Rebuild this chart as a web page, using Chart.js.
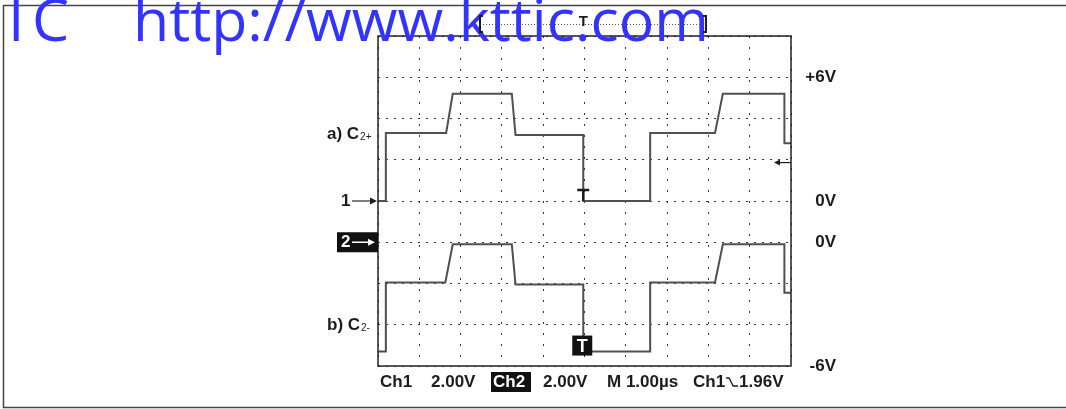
<!DOCTYPE html>
<html>
<head>
  <meta charset="utf-8">
  <title>C2+ / C2- scope capture</title>
  <script src="https://cdn.jsdelivr.net/npm/chart.js"></script>
  <style>
    body { margin: 0; background: #fff; }
    #wrap { width: 1066px; height: 409px; }
  </style>
</head>
<body>
  <div id="wrap"><canvas id="scope" width="1066" height="409"></canvas></div>
  <script>
    // time in us (1.00us/div, 10 divisions), volts per channel (2.00V/div)
    const ch1Time  = [0, 0.19, 0.19, 1.65, 1.81, 3.24, 3.33, 4.97, 4.97, 6.59, 6.59, 8.16, 8.35, 9.84, 9.84, 10];
    const ch1Volts = [0, 0, 3.3, 3.3, 5.2, 5.2, 3.2, 3.2, 0, 0, 3.3, 3.3, 5.2, 5.2, 2.8, 2.8];
    const ch2Time  = [0, 0.19, 0.19, 1.63, 1.81, 3.24, 3.33, 4.97, 4.97, 6.59, 6.59, 8.16, 8.35, 9.84, 9.84, 10];
    const ch2Volts = [-5.3, -5.3, -1.95, -1.95, -0.1, -0.1, -2.05, -2.05, -5.3, -5.3, -1.95, -1.95, -0.1, -0.1, -2.45, -2.45];

    const rightLabels = ['+6V', '0V', '0V', '-6V'];
    const statusItems = ['Ch1', '2.00V', 'Ch2', '2.00V', 'M 1.00\u00b5s', 'Ch1', '1.96V'];
    const triggerLevel = 1.96;

    const pts = (xs, ys) => xs.map((x, i) => ({x: x, y: ys[i]}));
    const BOLD = 'bold 17px "Liberation Sans", Arial, sans-serif';
    const INK = '#1c1c1c';

    function arrowHead(ctx, x, y, dir, size) {
      ctx.beginPath();
      ctx.moveTo(x, y);
      ctx.lineTo(x - dir * size, y - size / 2);
      ctx.lineTo(x - dir * size, y + size / 2);
      ctx.closePath();
      ctx.fill();
    }

    const decor = {
      id: 'decor',
      afterDraw(chart) {
        const ctx = chart.ctx;
        const ca = chart.chartArea;
        const x = chart.scales.x, y1 = chart.scales.y1, y2 = chart.scales.y2;
        ctx.save();

        // outer frame
        ctx.strokeStyle = '#444';
        ctx.lineWidth = 1.5;
        ctx.beginPath();
        ctx.moveTo(1066, 5.5); ctx.lineTo(3.5, 5.5); ctx.lineTo(3.5, 407.5); ctx.lineTo(1066, 407.5);
        ctx.stroke();

        // graticule frame
        ctx.strokeStyle = '#222';
        ctx.strokeRect(ca.left, ca.top, ca.right - ca.left, ca.bottom - ca.top);

        ctx.fillStyle = INK;
        ctx.strokeStyle = INK;
        ctx.textBaseline = 'middle';

        // left labels with subscripts
        function sub(main, small, lx, cy) {
          ctx.font = BOLD;
          ctx.textAlign = 'left';
          ctx.fillText(main, lx, cy);
          const w = ctx.measureText(main).width;
          ctx.font = '10px "Liberation Sans", Arial, sans-serif';
          ctx.fillText(small, lx + w + 1, cy + 3);
        }
        sub('a) C', '2+', 327, 134);
        sub('b) C', '2-', 327, 325);

        // channel ground markers
        const g1 = y1.getPixelForValue(0);
        ctx.font = BOLD;
        ctx.textAlign = 'left';
        ctx.fillText('1', 341, g1);
        ctx.strokeStyle = '#555';
        ctx.lineWidth = 1.5;
        ctx.beginPath(); ctx.moveTo(352, g1); ctx.lineTo(372, g1); ctx.stroke();
        arrowHead(ctx, 377, g1, 1, 7);

        const g2 = y2.getPixelForValue(0);
        ctx.fillStyle = '#111';
        ctx.fillRect(337, g2 - 10, ca.left - 337, 20);
        ctx.fillStyle = '#fff';
        ctx.strokeStyle = '#fff';
        ctx.fillText('2', 341, g2);
        ctx.beginPath(); ctx.moveTo(352, g2); ctx.lineTo(370, g2); ctx.stroke();
        arrowHead(ctx, 375, g2, 1, 7);

        // right labels
        ctx.fillStyle = INK;
        ctx.strokeStyle = INK;
        ctx.textAlign = 'right';
        ctx.fillText(rightLabels[0], 836, y1.getPixelForValue(6));
        ctx.fillText(rightLabels[1], 836, g1);
        ctx.fillText(rightLabels[2], 836, g2);
        ctx.fillText(rightLabels[3], 836, y2.getPixelForValue(-6));

        // trigger level arrow
        const tl = y1.getPixelForValue(triggerLevel) + 2;
        ctx.lineWidth = 1.2;
        ctx.beginPath(); ctx.moveTo(ca.right, tl); ctx.lineTo(779, tl); ctx.stroke();
        arrowHead(ctx, 774, tl, -1, 6);

        // trigger position marks
        const tx = x.getPixelForValue(4.97);
        ctx.lineWidth = 2.5;
        ctx.beginPath();
        ctx.moveTo(tx - 6, g1 - 11); ctx.lineTo(tx + 6, g1 - 11);
        ctx.moveTo(tx, g1 - 11); ctx.lineTo(tx, g1);
        ctx.stroke();

        const low2 = y2.getPixelForValue(-5.3);
        ctx.fillStyle = '#111';
        ctx.fillRect(tx - 11, low2 - 16, 20, 20);
        ctx.fillStyle = '#fff';
        ctx.textAlign = 'center';
        ctx.font = 'bold 18px "Liberation Sans", Arial, sans-serif';
        ctx.fillText('T', tx - 1, low2 - 5);

        // status line
        const sy = 382;
        ctx.fillStyle = INK;
        ctx.font = BOLD;
        ctx.textAlign = 'left';
        ctx.fillText(statusItems[0], 380, sy);
        ctx.fillText(statusItems[1], 431, sy);
        ctx.fillStyle = '#111';
        ctx.fillRect(491, sy - 10, 40, 20);
        ctx.fillStyle = '#fff';
        ctx.fillText(statusItems[2], 493, sy);
        ctx.fillStyle = INK;
        ctx.fillText(statusItems[3], 543, sy);
        ctx.fillText(statusItems[4], 607, sy);
        ctx.fillText(statusItems[5], 693, sy);
        const sw = 693 + ctx.measureText(statusItems[5]).width;
        ctx.strokeStyle = INK;
        ctx.lineWidth = 1.3;
        ctx.beginPath();
        ctx.moveTo(sw + 1, sy - 4); ctx.lineTo(sw + 4, sy - 4);
        ctx.lineTo(sw + 8, sy + 4); ctx.lineTo(sw + 13, sy + 4);
        ctx.stroke();
        ctx.fillText(statusItems[6], sw + 14, sy);

        // watermark
        ctx.fillStyle = '#3333ff';
        ctx.textBaseline = 'alphabetic';
        ctx.textAlign = 'left';
        ctx.font = '59px "Open Sans", sans-serif';
        ctx.fillText('I', 8, 41);
        ctx.fillText('C', 32, 41);
        ctx.fillText('http://www.kttic.com', 133, 41);

        // top trigger bracket (drawn over the watermark)
        ctx.strokeStyle = '#555';
        ctx.lineWidth = 1;
        ctx.setLineDash([1, 2]);
        ctx.beginPath(); ctx.moveTo(483, 24.5); ctx.lineTo(703, 24.5); ctx.stroke();
        ctx.setLineDash([]);
        ctx.strokeStyle = INK;
        ctx.lineWidth = 2;
        ctx.beginPath();
        ctx.moveTo(483, 16); ctx.lineTo(480, 16); ctx.lineTo(480, 32); ctx.lineTo(483, 32);
        ctx.moveTo(703, 16); ctx.lineTo(706, 16); ctx.lineTo(706, 32); ctx.lineTo(703, 32);
        ctx.stroke();
        ctx.fillStyle = INK;
        ctx.textBaseline = 'middle';
        ctx.textAlign = 'center';
        ctx.font = 'bold 15px "Liberation Sans", Arial, sans-serif';
        ctx.fillText('T', tx, 22);

        ctx.restore();
      }
    };

    const ctx = document.getElementById('scope').getContext('2d');
    new Chart(ctx, {
      type: 'line',
      data: {
        datasets: [
          {label: 'a) C2+', data: pts(ch1Time, ch1Volts), yAxisID: 'y1'},
          {label: 'b) C2-', data: pts(ch2Time, ch2Volts), yAxisID: 'y2'}
        ]
      },
      options: {
        responsive: false,
        animation: false,
        devicePixelRatio: 1,
        layout: {padding: {left: 378, right: 275, top: 36, bottom: 43}},
        elements: {
          line: {borderColor: '#505050', borderWidth: 2, tension: 0},
          point: {radius: 0}
        },
        plugins: {legend: {display: false}, tooltip: {enabled: false}},
        scales: {
          x: {
            type: 'linear', min: 0, max: 10,
            ticks: {display: false, stepSize: 1},
            grid: {color: '#333', lineWidth: 1, drawTicks: false},
            border: {display: false, dash: [2, 9]}
          },
          y1: {
            position: 'left', min: -8, max: 8,
            ticks: {display: false, stepSize: 2},
            grid: {color: '#333', lineWidth: 1, drawTicks: false},
            border: {display: false, dash: [2, 6]}
          },
          y2: {display: false, min: -6, max: 10}
        }
      },
      plugins: [decor]
    });
  </script>
</body>
</html>
